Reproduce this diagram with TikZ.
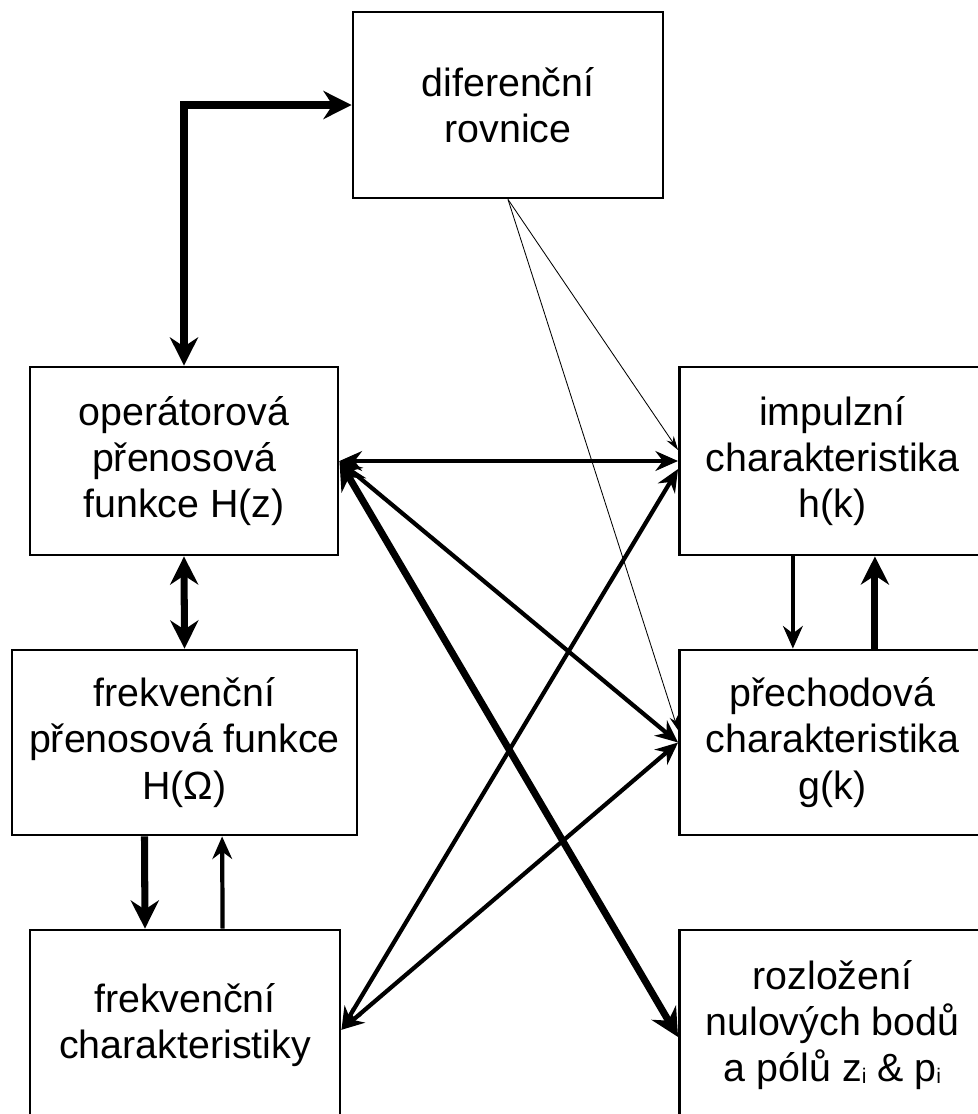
\documentclass[tikz,border=0pt]{standalone}
\usepackage{fontspec}
\setmainfont{Liberation Sans}
\usetikzlibrary{arrows.meta}

\newcommand{\idx}[1]{\raisebox{-0.1ex}{\fontsize{15}{15}\selectfont #1}}

\tikzset{
  blok/.style={draw, line width=2pt, inner sep=0pt, align=center,
               font=\fontsize{28}{33}\selectfont},
  silna/.style={line width=5pt, >={Stealth[length=20pt,width=20pt]}},
  stredni/.style={line width=3pt, >={Stealth[length=16pt,width=14pt]}},
  tenka/.style={line width=0.6pt, >={Stealth[length=10pt,width=6pt]}}
}

\begin{document}
\begin{tikzpicture}[x=0.025cm, y=-0.025cm]
  \useasboundingbox (0,0) rectangle (978,1114);
  \clip (0,0) rectangle (978,1114);

  % bloky
  \node[blok, minimum width=7.75cm, minimum height=4.65cm] (dif) at (508,105)
    {diferenční\\rovnice};
  \node[blok, minimum width=7.7cm, minimum height=4.7cm] (op) at (184,461)
    {operátorová\\přenosová\\funkce H(z)};
  \node[blok, minimum width=7.65cm, minimum height=4.7cm] (imp) at (832.5,461)
    {impulzní\\charakteristika\\h(k)};
  \node[blok, minimum width=8.625cm, minimum height=4.625cm] (fp) at (184.5,742.5)
    {frekvenční\\přenosová funkce\\H(Ω)};
  \node[blok, minimum width=7.65cm, minimum height=4.625cm] (pch) at (832.5,742.5)
    {přechodová\\charakteristika\\g(k)};
  \node[blok, minimum width=7.75cm, minimum height=4.75cm] (fc) at (185,1025)
    {frekvenční\\charakteristiky};
  \node[blok, minimum width=7.65cm, minimum height=4.75cm] (rozl) at (832.5,1025)
    {rozložení\\nulových bodů\\a pólů z\idx{i} \& p\idx{i}};

  % vazby
  \draw[silna,<->] (op.north) |- (dif.west);
  \draw[stredni,<->] (op.east) -- (imp.west);
  \draw[tenka,->] (dif.south) -- ([yshift=0.275cm]imp.west);
  \draw[tenka,->] (dif.south) -- ([yshift=0.31cm]pch.west);
  \draw[stredni,<->] (op.east) -- (pch.west);
  \draw[silna,<->] (op.east) -- ([yshift=-0.3cm]rozl.west);
  \draw[stredni,<->] ([yshift=-0.12cm]fc.east) -- ([yshift=-0.2cm]imp.west);
  \draw[stredni,<->] ([yshift=-0.12cm]fc.east) -- (pch.west);
  \draw[silna,<->] (op.south) -- (fp.north);
  \draw[silna,->] ([xshift=-1cm]fp.south) -- ([xshift=-1cm]fc.north);
  \draw[stredni,->] ([xshift=0.94cm]fc.north) -- ([xshift=0.94cm]fp.south);
  \draw[stredni,->] ([xshift=-0.99cm]imp.south) -- ([xshift=-0.99cm]pch.north);
  \draw[silna,->] ([xshift=1.06cm]pch.north) -- ([xshift=1.06cm]imp.south);
\end{tikzpicture}
\end{document}
